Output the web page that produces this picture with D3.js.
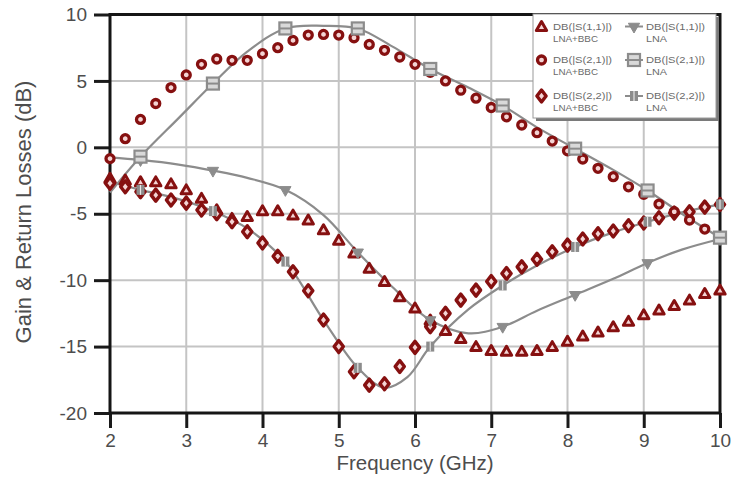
<!DOCTYPE html>
<html><head><meta charset="utf-8">
<script src="https://cdn.jsdelivr.net/npm/d3@7"></script>
<style>body{margin:0;background:#fff}svg{display:block}</style>
</head><body>
<svg id="c" width="734" height="487"></svg>
<script>
// ---------- DATA ----------
const bbcFreq = d3.range(41).map(i => +(2 + i * 0.2).toFixed(1)); // 2.0 .. 10.0 step 0.2 (sample grid)
const s11Bbc = [-2.33,-2.46,-2.59,-2.6,-2.75,-3.2,-3.84,-4.7,-5.35,-5.2,-4.77,-4.77,-5.1,-5.47,-6.2,-7.0,-7.96,-9.1,-10.1,-11.25,-12.1,-13.0,-13.8,-14.4,-15.0,-15.3,-15.35,-15.35,-15.3,-15.0,-14.6,-14.2,-13.9,-13.5,-13.1,-12.6,-12.25,-11.9,-11.5,-11.0,-10.75];
const s21Bbc = [-0.85,0.65,2.1,3.3,4.5,5.45,6.25,6.65,6.55,6.55,7.05,7.5,8.05,8.45,8.5,8.45,8.25,7.75,7.3,6.8,6.25,5.65,5.0,4.3,3.7,3.0,2.3,1.68,1.1,0.47,-0.26,-0.88,-1.58,-2.21,-2.97,-3.54,-4.27,-4.85,-5.47,-6.15,-6.73];
const s22Bbc = [-2.71,-2.97,-3.34,-3.6,-3.97,-4.2,-4.72,-5.0,-5.6,-6.35,-7.2,-8.2,-9.37,-10.8,-13.0,-15.0,-16.9,-17.9,-17.8,-16.5,-15.06,-13.5,-12.5,-11.5,-10.75,-10.1,-9.5,-9.0,-8.43,-7.86,-7.36,-6.9,-6.5,-6.3,-5.9,-5.7,-5.3,-4.95,-4.85,-4.5,-4.3];

const lnaMarkerFreq = [2.4,3.35,4.3,5.25,6.2,7.15,8.1,9.05,10.0];
const s11LnaFreq = [2.0,2.4,2.9,3.35,3.8,4.3,4.8,5.25,5.7,6.2,6.7,7.15,7.6,8.1,8.6,9.05,9.5,10.0];
const s11Lna     = [-0.75,-0.95,-1.3,-1.75,-2.3,-3.2,-5.1,-7.9,-10.5,-13.0,-14.0,-13.5,-12.3,-11.1,-9.9,-8.7,-7.7,-6.9];
const s21LnaFreq = [2.0,2.4,2.9,3.35,3.8,4.3,4.8,5.25,5.7,6.2,6.7,7.15,7.6,8.1,8.6,9.05,9.5,10.0];
const s21Lna     = [-3.4,-0.7,2.2,4.8,7.2,8.95,9.15,8.95,7.6,5.9,4.5,3.15,1.5,-0.1,-1.7,-3.25,-5.0,-6.8];
const s22LnaFreq = [2.0,2.4,2.9,3.35,3.8,4.3,4.8,5.25,5.6,5.9,6.2,6.7,7.15,7.6,8.1,8.6,9.05,9.5,10.0];
const s22Lna     = [-2.6,-3.2,-3.9,-4.8,-6.1,-8.6,-13.0,-16.6,-18.1,-17.3,-15.0,-12.2,-10.4,-8.9,-7.5,-6.4,-5.6,-4.9,-4.3];

const xTicks = [2,3,4,5,6,7,8,9,10];
const yTicks = [-20,-15,-10,-5,0,5,10];
const xTitle = "Frequency (GHz)";
const yTitle = "Gain & Return Losses (dB)";
const legendLeft = [["DB(|S(1,1)|)","LNA+BBC"],["DB(|S(2,1)|)","LNA+BBC"],["DB(|S(2,2)|)","LNA+BBC"]];
const legendRight = [["DB(|S(1,1)|)","LNA"],["DB(|S(2,1)|)","LNA"],["DB(|S(2,2)|)","LNA"]];

// ---------- LAYOUT ----------
const L = 110, R = 720, T = 14.5, B = 413;
const RED = "#861010", REDIN = "#f4d4d4", GRAY = "#8c8c8c", TXT = "#4d4d4d";
const svg = d3.select("#c");
const x = d3.scaleLinear().domain([2,10]).range([L,R]);
const y = d3.scaleLinear().domain([-20,10]).range([B,T]);
const font = "'Liberation Sans', Arial, sans-serif";
const fmt = d => String(d);

// grid
const g = svg.append("g");
g.selectAll(".gx").data(xTicks.slice(1,-1)).join("line")
  .attr("x1", d=>x(d)).attr("x2", d=>x(d)).attr("y1", T).attr("y2", B)
  .attr("stroke", "#c4c4c4").attr("stroke-width", 2);
g.selectAll(".gy").data(yTicks.slice(1,-1)).join("line")
  .attr("y1", d=>y(d)).attr("y2", d=>y(d)).attr("x1", L).attr("x2", R)
  .attr("stroke", "#c4c4c4").attr("stroke-width", 2);

// axes via d3
const xAxis = svg.append("g").attr("transform", `translate(0,${B})`)
  .call(d3.axisBottom(x).tickValues(xTicks).tickSize(15).tickPadding(6).tickFormat(fmt));
const yAxis = svg.append("g").attr("transform", `translate(${L},0)`)
  .call(d3.axisLeft(y).tickValues(yTicks).tickSize(16).tickPadding(5).tickFormat(fmt));
[xAxis, yAxis].forEach(a => {
  a.select(".domain").remove();
  a.selectAll(".tick line").attr("stroke", "#1a1a1a").attr("stroke-width", 3);
  a.selectAll(".tick text").attr("fill", TXT).style("font-family", font).style("font-size", "19px");
});
yAxis.selectAll(".tick text").attr("dx", "-2");

// frame
svg.append("rect").attr("x", L).attr("y", T).attr("width", R-L).attr("height", B-T)
  .attr("fill", "none").attr("stroke", "#151515").attr("stroke-width", 3);

// titles
svg.append("text").attr("x", (L+R)/2).attr("y", 470).attr("text-anchor", "middle")
  .attr("fill", TXT).style("font-family", font).style("font-size", "20.5px").text(xTitle);
svg.append("text").attr("transform", "translate(31,212) rotate(-90)").attr("text-anchor", "middle")
  .attr("fill", TXT).style("font-family", font).style("font-size", "22px").text(yTitle);

// ---------- GRAY LNA LINES ----------
const line = d3.line().x(d=>x(d[0])).y(d=>y(d[1])).curve(d3.curveCatmullRom.alpha(0.5));
const lnaSeries = [
  {f:s11LnaFreq, v:s11Lna, m:"tri"},
  {f:s21LnaFreq, v:s21Lna, m:"sq"},
  {f:s22LnaFreq, v:s22Lna, m:"cross"}
];
const plot = svg.append("g");
lnaSeries.forEach(s => {
  const pts = s.f.map((f,i)=>[f, s.v[i]]);
  plot.append("path").datum(pts).attr("d", line).attr("fill","none")
    .attr("stroke", GRAY).attr("stroke-width", 2.2);
});

function grayMarker(sel, type) {
  if (type === "tri") {
    sel.append("path").attr("d", d3.symbol(d3.symbolTriangle, 55)()).attr("transform","rotate(180)")
      .attr("fill", GRAY).attr("stroke", GRAY).attr("stroke-width", 1);
  } else if (type === "sq") {
    sel.append("rect").attr("x",-6).attr("y",-6).attr("width",12).attr("height",12)
      .attr("fill","#d9d9d9").attr("stroke", GRAY).attr("stroke-width", 2.2);
    sel.append("line").attr("x1",-6).attr("x2",6).attr("stroke", GRAY).attr("stroke-width", 2);
  } else {
    sel.append("rect").attr("x",-4).attr("y",-5).attr("width",8).attr("height",10).attr("fill", GRAY);
    sel.append("line").attr("x1",0).attr("x2",0).attr("y1",-5).attr("y2",5).attr("stroke","#e6e6e6").attr("stroke-width",1.2);
  }
}

// ---------- RED LNA+BBC MARKERS ----------
function redMarker(sel, type) {
  if (type === "tri") {
    sel.append("path").attr("d", d3.symbol(d3.symbolTriangle, 46)()).attr("transform","translate(0,1)")
      .attr("fill", REDIN).attr("stroke", RED).attr("stroke-width", 3).attr("stroke-linejoin","round");
  } else if (type === "circ") {
    sel.append("circle").attr("r", 4).attr("fill", REDIN).attr("stroke", RED).attr("stroke-width", 3.3);
  } else {
    sel.append("path").attr("d", "M0,-6L4.6,0L0,6L-4.6,0Z")
      .attr("fill", REDIN).attr("stroke", RED).attr("stroke-width", 3.4).attr("stroke-linejoin","round");
  }
}
const redSeries = [
  {v:s11Bbc, m:"tri"},
  {v:s22Bbc, m:"dia"},
  {v:s21Bbc, m:"circ"}
];
redSeries.forEach(s => {
  plot.append("g").selectAll("g").data(bbcFreq.map((f,i)=>[f, s.v[i]])).join("g")
    .attr("transform", d=>`translate(${x(d[0])},${y(d[1])})`)
    .each(function(){ redMarker(d3.select(this), s.m); });
});

// gray markers on top
lnaSeries.forEach(s => {
  const pts = s.f.map((f,i)=>[f, s.v[i]]).filter(p => lnaMarkerFreq.includes(p[0]));
  plot.append("g").selectAll("g").data(pts).join("g")
    .attr("transform", d=>`translate(${x(d[0])},${y(d[1])})`)
    .each(function(){ grayMarker(d3.select(this), s.m); });
});

// ---------- LEGEND ----------
const lg = svg.append("g");
lg.append("rect").attr("x", 536).attr("y", 17).attr("width", 183).attr("height", 104).attr("fill", "#7a7a7a");
lg.append("rect").attr("x", 533).attr("y", 14).attr("width", 183).attr("height", 104)
  .attr("fill", "#fff").attr("stroke", "#9a9a9a").attr("stroke-width", 1);
const rowsY = [26.5, 60, 96];
const redTypes = ["tri","circ","dia"], grayTypes = ["tri","sq","cross"];
rowsY.forEach((ry, i) => {
  const a = lg.append("g").attr("transform", `translate(541.5,${ry})`);
  redMarker(a, redTypes[i]);
  lg.append("line").attr("x1", 625).attr("x2", 643).attr("y1", ry).attr("y2", ry)
    .attr("stroke", GRAY).attr("stroke-width", 2);
  const b = lg.append("g").attr("transform", `translate(634,${ry})`);
  grayMarker(b, grayTypes[i]);
  [[553, legendLeft[i], [59,45]], [646, legendRight[i], [59,21]]].forEach(([tx, lines, w]) => {
    lines.forEach((t, j) => {
      lg.append("text").attr("x", tx).attr("y", ry + 3 + j*12.3)
        .attr("textLength", w[j]).attr("lengthAdjust", "spacingAndGlyphs")
        .attr("fill", "#6a6a6a").style("font-family", font).style("font-size", "8.5px").text(t);
    });
  });
});
</script>
</body></html>
